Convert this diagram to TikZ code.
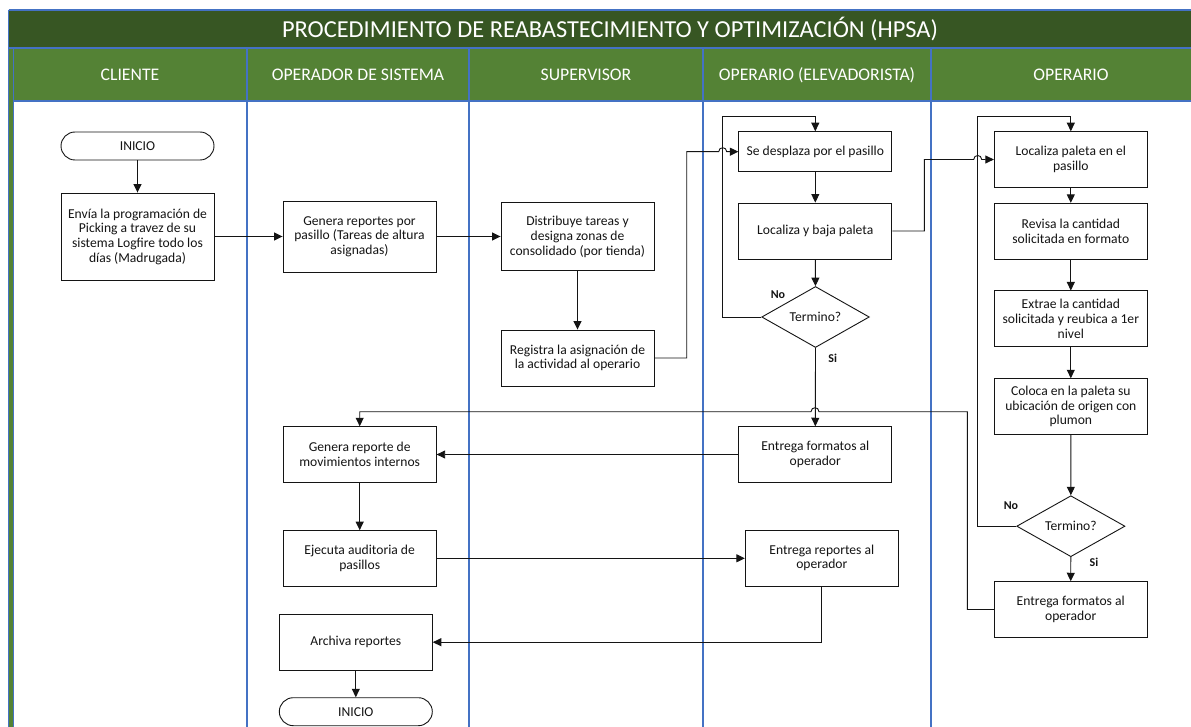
\documentclass[tikz,border=0pt]{standalone}
\usepackage{fontspec}
\setmainfont{Carlito}
\usetikzlibrary{shapes.geometric,arrows.meta}
\definecolor{titlegreen}{HTML}{375623}
\definecolor{headgreen}{HTML}{548235}
\definecolor{laneblue}{HTML}{4472C4}
\definecolor{ink}{HTML}{141414}

\begin{document}
\begin{tikzpicture}[x=1pt,y=-1pt,
  proc/.style={draw=ink, line width=0.9pt, fill=white, minimum width=153pt,
    inner sep=1pt, align=center, text=ink, font=\fontsize{13.6}{14.7}\selectfont},
  term/.style={proc, rounded corners=14pt, minimum height=28pt},
  dec/.style={diamond, draw=ink, line width=0.9pt, fill=white, inner sep=0pt,
    text=ink, font=\fontsize{13.6}{14.7}\selectfont},
  flow/.style={draw=ink, line width=0.9pt, -{Triangle[length=8.5pt,width=8pt]}},
  link/.style={draw=ink, line width=0.9pt},
  lane/.style={draw=laneblue, line width=1.2pt},
  lbl/.style={font=\bfseries\fontsize{12}{12}\selectfont, text=ink},
  hdr/.style={text=white, font=\fontsize{17.7}{17.7}\selectfont}
]
\useasboundingbox (0,0) rectangle (1191,727);
\fill[white] (0,0) rectangle (1191,727);

% title bar, lane headers and left border
\fill[titlegreen] (8,10) rectangle (1191,48);
\fill[headgreen] (8,48) rectangle (1191,101);
\fill[headgreen] (8,101) rectangle (13.5,727);
\draw[lane] (8.5,10) -- (1191,10);
\draw[lane] (8.5,10) -- (8.5,727);
\draw[lane] (8.5,48) -- (1191,48);
\draw[lane] (13.5,101) -- (1191,101);
\foreach \lx in {13.5,247,469,703,931}
  \draw[lane] (\lx,48) -- (\lx,727);

\node[text=white, font=\fontsize{24.4}{24.4}\selectfont] (title) at (610,29)
  {PROCEDIMIENTO DE REABASTECIMIENTO Y OPTIMIZACIÓN (HPSA)};
\node[hdr] (hcli) at (130,75) {CLIENTE};
\node[hdr] (hops) at (358,75) {OPERADOR DE SISTEMA};
\node[hdr] (hsup) at (586,75) {SUPERVISOR};
\node[hdr] (helv) at (817,75) {OPERARIO (ELEVADORISTA)};
\node[hdr] (hope) at (1071,75) {OPERARIO};

% CLIENTE
\node[term] (ini) at (137.5,146) {INICIO};
\node[proc, minimum height=87pt] (envia) at (137.5,236.5)
  {Envía la programación de\\Picking a travez de su\\sistema Logfire todo los\\días (Madrugada)};

% OPERADOR DE SISTEMA
\node[proc, minimum height=71pt] (genrep) at (359.5,236.5)
  {Genera reportes por\\pasillo (Tareas de altura\\asignadas)};
\node[proc, minimum height=55.6pt] (genmov) at (359.7,454.5)
  {Genera reporte de\\movimientos internos};
\node[proc, minimum height=55.3pt] (ejec) at (359.7,558.3)
  {Ejecuta auditoria de\\pasillos};
\node[proc, minimum height=55.7pt] (archiva) at (355.8,642.2) {Archiva reportes};
\node[term] (fin) at (355.8,711.7) {INICIO};

% SUPERVISOR
\node[proc, minimum height=68pt] (distrib) at (577.5,236.7)
  {Distribuye tareas y\\designa zonas de\\consolidado (por tienda)};
\node[proc, minimum height=56pt] (registra) at (577.5,358)
  {Registra la asignación de\\la actividad al operario};

% OPERARIO (ELEVADORISTA)
\node[proc, minimum height=40pt] (despl) at (815.3,151.7) {Se desplaza por el pasillo};
\node[proc, minimum height=56pt] (baja) at (815.3,231) {Localiza y baja paleta};
\node[dec, minimum width=107.6pt, minimum height=59.4pt] (fin1) at (815.5,317) {Termino?};
\node[proc, minimum height=55.6pt] (entf1) at (815.3,454.5) {Entrega formatos al\\operador};
\node[proc, minimum height=56pt] (entrep) at (821.8,558) {Entrega reportes al\\operador};

% OPERARIO
\node[proc, minimum height=55.6pt] (locpal) at (1070.8,159.5) {Localiza paleta en el\\pasillo};
\node[proc, minimum height=56pt] (revisa) at (1070.8,231.3) {Revisa la cantidad\\solicitada en formato};
\node[proc, minimum height=55.7pt] (extrae) at (1070.8,318.8)
  {Extrae la cantidad\\solicitada y reubica a 1er\\nivel};
\node[proc, minimum height=55.6pt] (coloca) at (1070.8,406.5)
  {Coloca en la paleta su\\ubicación de origen con\\plumon};
\node[dec, minimum width=108.3pt, minimum height=59pt] (fin2) at (1070.85,526.2) {Termino?};
\node[proc, minimum height=55.6pt] (entf2) at (1070.7,609.5) {Entrega formatos al\\operador};

% decision labels
\node[lbl] (no1) at (778,295) {No};
\node[lbl] (si1) at (832.7,358.3) {Si};
\node[lbl] (no2) at (1011,505.7) {No};
\node[lbl] (si2) at (1094,562.3) {Si};

% connectors
\draw[flow] (ini) -- (envia);
\draw[flow] (envia) -- (genrep);
\draw[flow] (genrep.east) -- (distrib.west |- genrep.east);
\draw[flow] (distrib) -- (registra);
\draw[flow] (registra.east) -- (686.7,358) -- (686.7,151.7) -- (718.7,151.7)
  .. controls (718.7,146.4) and (726.7,146.4) .. (726.7,151.7) -- (despl.west);
\draw[flow] (despl) -- (baja);
\draw[flow] (baja) -- (fin1);
\draw[flow] (fin1.west) -- (722.7,317) -- (722.7,116.7) -| (despl.north);
\draw[flow] (fin1.south) -- (entf1.north);
\draw[flow] (baja.east) -- (924.3,231) -- (924.3,159.5) -- (973.7,159.5)
  .. controls (973.7,154.2) and (981.7,154.2) .. (981.7,159.5) -- (locpal.west);
\draw[flow] (fin2.west) -- (977.7,526.2) -- (977.7,116.7) -| (locpal.north);
\draw[flow] (locpal) -- (revisa);
\draw[flow] (revisa) -- (extrae);
\draw[flow] (extrae) -- (coloca);
\draw[flow] (coloca) -- (fin2);
\draw[flow] (fin2) -- (entf2);
\draw[flow] (entf2.west) -- (967.3,609.5) -- (967.3,411.7) -- (819,411.7)
  .. controls (819,406.4) and (811,406.4) .. (811,411.7) -| (genmov.north);
\draw[flow] (entf1.west) -- (genmov.east);
\draw[flow] (genmov) -- (ejec);
\draw[flow] (ejec.east) -- (entrep.west |- ejec.east);
\draw[flow] (entrep.south) |- (archiva.east);
\draw[flow] (archiva) -- (fin);
\end{tikzpicture}
\end{document}
